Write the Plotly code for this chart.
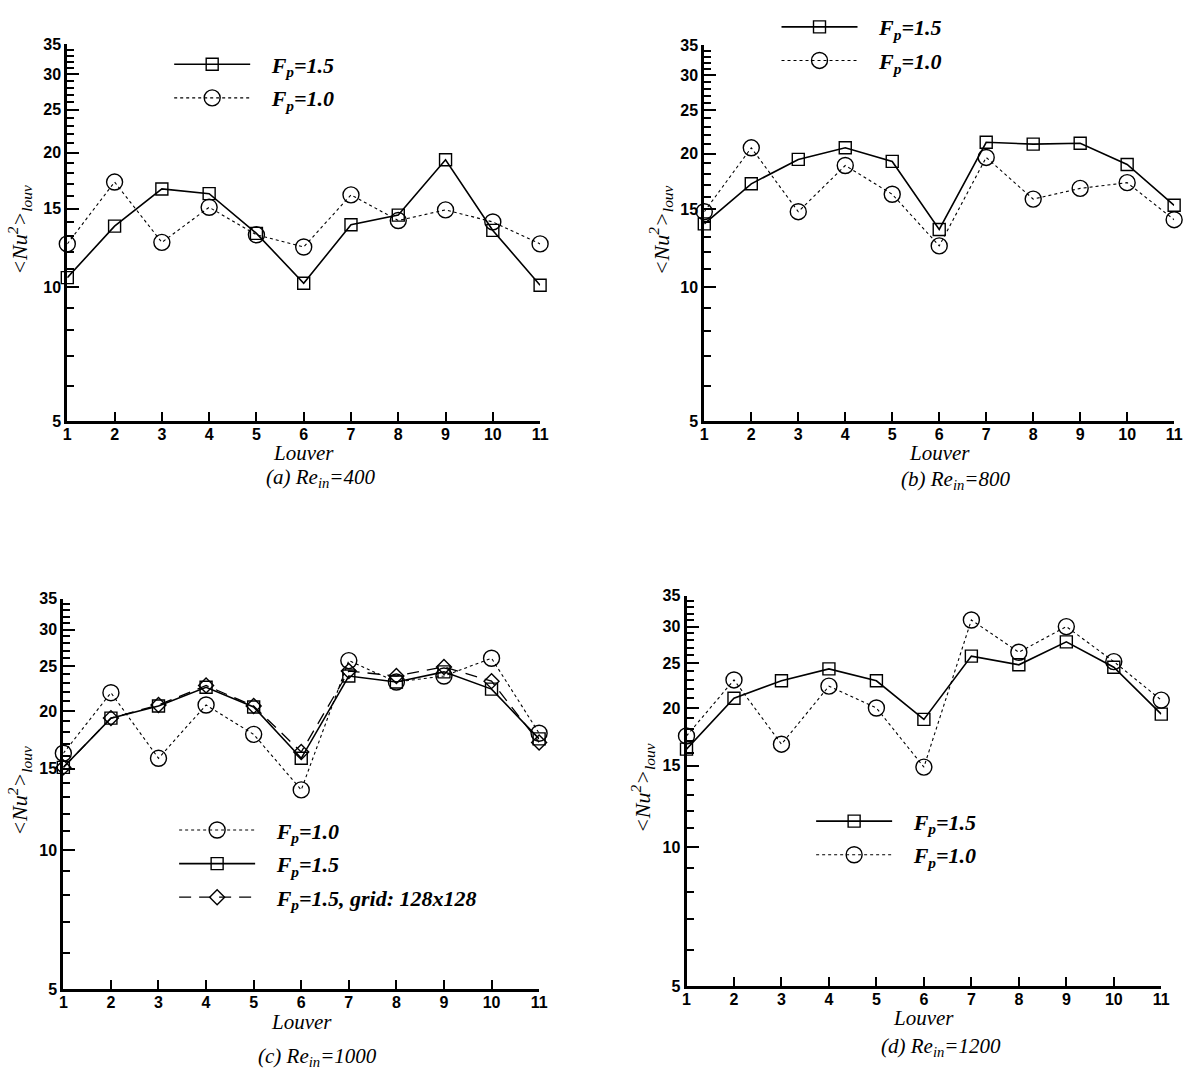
import math
import plotly.graph_objects as go

W, H = 1196, 1082

louver = [1, 2, 3, 4, 5, 6, 7, 8, 9, 10, 11]
ytick_vals = [5, 10, 15, 20, 25, 30, 35]
ytick_text = ["5", "10", "15", "20", "25", "30", "35"]
yminor_vals = [v for v in range(6, 35) if v % 5 != 0]

# (a) Re_in=400
a_fp15 = [10.5, 13.7, 16.6, 16.2, 13.2, 10.2, 13.8, 14.5, 19.3, 13.4, 10.1]
a_fp10 = [12.5, 17.2, 12.6, 15.1, 13.1, 12.3, 16.1, 14.1, 14.9, 14.0, 12.5]
# (b) Re_in=800
b_fp15 = [13.9, 17.1, 19.4, 20.6, 19.2, 13.5, 21.2, 21.0, 21.1, 18.9, 15.3]
b_fp10 = [14.8, 20.6, 14.8, 18.8, 16.2, 12.4, 19.6, 15.8, 16.7, 17.2, 14.2]
# (c) Re_in=1000
c_fp10 = [16.2, 21.9, 15.8, 20.6, 17.8, 13.5, 25.7, 23.1, 23.8, 26.0, 17.9]
c_fp15 = [15.1, 19.3, 20.5, 22.5, 20.4, 15.8, 23.8, 23.1, 24.3, 22.3, 17.4]
c_fp15_grid = [15.1, 19.3, 20.6, 22.7, 20.5, 16.3, 24.4, 23.8, 24.9, 23.2, 17.1]
# (d) Re_in=1200
d_fp15 = [16.3, 21.0, 22.9, 24.3, 22.9, 18.9, 25.9, 24.8, 27.8, 24.5, 19.4]
d_fp10 = [17.4, 23.0, 16.7, 22.3, 20.0, 14.9, 31.0, 26.4, 30.0, 25.2, 20.8]

captions = ["(a) Re<sub>in</sub>=400", "(b) Re<sub>in</sub>=800",
            "(c) Re<sub>in</sub>=1000", "(d) Re<sub>in</sub>=1200"]
PAD = "&nbsp;&nbsp;&nbsp;"
lab15 = PAD + "<b><i>F<sub>p</sub>=1.5</i></b>"
lab10 = PAD + "<b><i>F<sub>p</sub>=1.0</i></b>"
lab15g = PAD + "<b><i>F<sub>p</sub>=1.5, grid: 128x128</i></b>"

def px(x):
    return x / W

def py(y):
    return 1 - y / H

# panel pixel boxes: left, right, top, bottom
boxes = [(64, 542, 37, 420), (708, 1183, 38, 420), (60, 541, 600, 997), (690, 1170, 597, 994)]
# legend positions (left px, top px)
legpos = [(167, 36), (781, -2), (172, 814), (816, 805)]
# y-title centre x (px) and caption / Louver offsets below axis
ytitle_x = [16, 664, 15, 645]
louver_dy = [32, 32, 33, 32]
caption_dy = [58, 60, 69, 62]

SERIF = "Liberation Serif"
SANS = "Liberation Sans"

styles = {
    "fp15": dict(mode="lines+markers", line=dict(color="black", width=1.6, dash="solid"),
                 marker=dict(symbol="square-open", size=12, color="black", line=dict(width=1.4, color="black"))),
    "fp10": dict(mode="lines+markers", line=dict(color="black", width=1.1, dash="dot"),
                 marker=dict(symbol="circle-open", size=16, color="black", line=dict(width=1.4, color="black"))),
    "grid": dict(mode="lines+markers", line=dict(color="black", width=1.3, dash="12px,8px"),
                 marker=dict(symbol="diamond-open", size=11.5, color="black", line=dict(width=1.4, color="black"))),
}

panels = [
    [("fp15", a_fp15, lab15), ("fp10", a_fp10, lab10)],
    [("fp15", b_fp15, lab15), ("fp10", b_fp10, lab10)],
    [("fp10", c_fp10, lab10), ("fp15", c_fp15, lab15), ("grid", c_fp15_grid, lab15g)],
    [("fp15", d_fp15, lab15), ("fp10", d_fp10, lab10)],
]

fig = go.Figure()
layout = dict(width=W, height=H, margin=dict(l=0, r=0, t=0, b=0),
              paper_bgcolor="white", plot_bgcolor="white",
              font=dict(family=SANS, color="black"), annotations=[])

tickfont = dict(family=SANS, size=16, color="black", weight="bold")

for i, (box, series) in enumerate(zip(boxes, panels)):
    n = "" if i == 0 else str(i + 1)
    leg = "legend" if i == 0 else "legend" + str(i + 1)
    for j, (key, vals, lab) in enumerate(series):
        fig.add_trace(go.Scatter(x=louver, y=vals, name=lab, xaxis="x" + n, yaxis="y" + n,
                                 legend=leg, legendgroup="g%d_%d" % (i, j), cliponaxis=False,
                                 **styles[key]))
    l, r, t, b = box
    layout["xaxis" + n] = dict(domain=[px(l), px(r)], anchor="y" + n, range=[1, 11],
                               tickmode="array", tickvals=louver, ticks="inside", ticklen=9,
                               tickwidth=2, tickcolor="black", showline=True, linewidth=3,
                               linecolor="black", showgrid=False, zeroline=False,
                               ticklabelstandoff=-4, tickfont=tickfont)
    layout["yaxis" + n] = dict(domain=[py(b), py(t)], anchor="x" + n, type="log",
                               range=[math.log10(5), math.log10(35)],
                               tickmode="array", tickvals=ytick_vals, ticktext=ytick_text,
                               ticks="inside", ticklen=12, tickwidth=2, tickcolor="black",
                               minor=dict(tickmode="array", tickvals=yminor_vals, ticks="inside",
                                          ticklen=7, tickwidth=1.5, tickcolor="black", showgrid=False),
                               showline=True, linewidth=3, linecolor="black", showgrid=False,
                               zeroline=False, tickfont=tickfont)
    lx, ly = legpos[i]
    layout[leg] = dict(x=px(lx), y=py(ly), xanchor="left", yanchor="top", bgcolor="rgba(0,0,0,0)",
                       font=dict(family=SERIF, size=22, color="black"), traceorder="grouped",
                       tracegroupgap=2, itemwidth=76, borderwidth=0)
    # axis titles and caption
    layout["annotations"].append(dict(text="<i>&lt;Nu<sup>2</sup>&gt;<sub>louv</sub></i>",
                                      xref="paper", yref="paper", x=px(ytitle_x[i]), y=py((t + b) / 2 - 3),
                                      xanchor="center", yanchor="middle", textangle=-90,
                                      showarrow=False, font=dict(family=SERIF, size=22, color="black")))
    layout["annotations"].append(dict(text="<i>Louver</i>", xref="x" + n, yref="paper", x=6,
                                      y=py(b + louver_dy[i]), xanchor="center", yanchor="middle",
                                      showarrow=False, font=dict(family=SERIF, size=21, color="black")))
    layout["annotations"].append(dict(text="<i>" + captions[i] + "</i>", xref="x" + n, yref="paper",
                                      x=6.35, y=py(b + caption_dy[i]), xanchor="center", yanchor="middle",
                                      showarrow=False, font=dict(family=SERIF, size=21, color="black")))

fig.update_layout(**layout)
fig.write_html("out.html")
